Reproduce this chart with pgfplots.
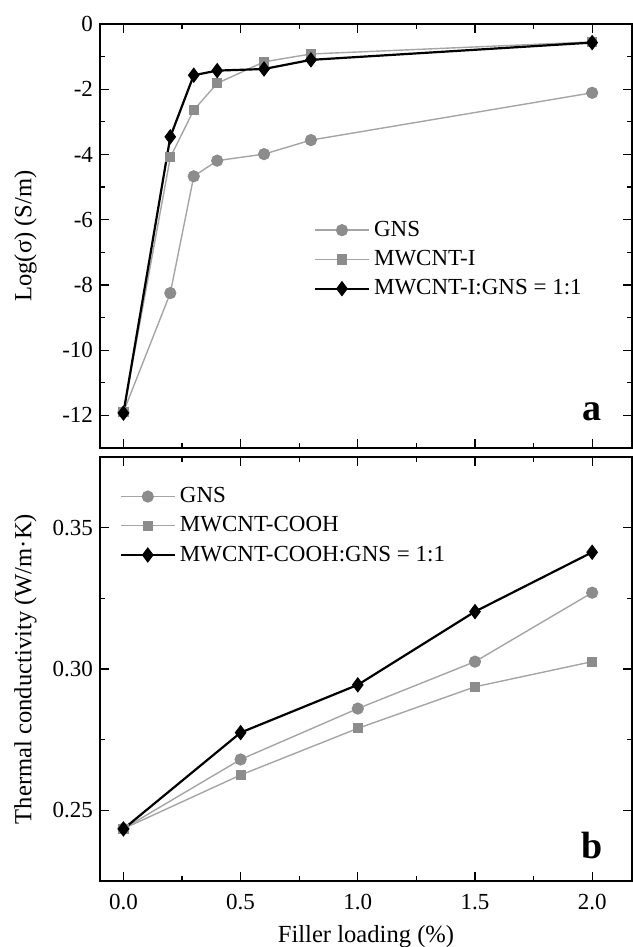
\documentclass[border=0pt]{standalone}
\usepackage{pgfplots}
\pgfplotsset{compat=1.18}
\usepackage{fontspec}
\setmainfont{Liberation Serif}

\definecolor{mgray}{RGB}{140,140,140}
\definecolor{lgray}{RGB}{165,165,165}

\newcommand{\tk}{\fontsize{11.5}{13.8}\selectfont}
\newcommand{\lb}{\fontsize{12.3}{14.5}\selectfont}

\pgfplotsset{
  panel/.style={
    scale only axis,
    width=266pt,
    height=212pt,
    xmin=-0.1, xmax=2.17,
    xtick={0,0.5,...,2},
    minor x tick num=1,
    minor y tick num=1,
    tick align=inside,
    major tick length=4.5pt,
    minor tick length=2.5pt,
    axis line style={line width=1pt},
    every tick/.style={black, line width=0.6pt},
    tick label style={font=\tk},
    /pgf/number format/assume math mode=true,
    every axis y label/.style={at={(axis description cs:-0.14,0.5)}, anchor=center, rotate=90, font=\lb},
    legend cell align=left,
    legend style={draw=none, fill=none, font=\tk, row sep=1.5pt,
      /tikz/every even column/.append style={column sep=3pt}},
    legend image code/.code={
      \draw[mark repeat=2, mark phase=2] plot coordinates {(0pt,0pt) (13.5pt,0pt) (27pt,0pt)};
    },
  },
  gns/.style={color=lgray, line width=0.7pt, mark=*, mark size=2.7pt,
    mark options={fill=mgray, draw=mgray}},
  cnt/.style={color=lgray, line width=0.7pt, mark=square*, mark size=2.2pt,
    mark options={fill=mgray, draw=mgray}},
  hyb/.style={color=black, line width=1.1pt, mark=diamond*, mark size=3.5pt,
    mark options={fill=black, draw=black, line width=0.5pt}},
}

\begin{document}
\begin{tikzpicture}
% panel a: electrical conductivity
\begin{axis}[panel,
  at={(0pt,216.5pt)}, anchor=south west,
  ymin=-13, ymax=0,
  ytick={-12,-10,...,0},
  xticklabels={},
  ylabel={Log(σ) (S/m)},
  legend style={at={(axis description cs:0.39,0.555)}, anchor=north west},
]
\addplot[gns] coordinates {(0,-11.9) (0.2,-8.25) (0.3,-4.67) (0.4,-4.19) (0.6,-3.99) (0.8,-3.56) (2.0,-2.11)};
\addplot[cnt] coordinates {(0,-11.9) (0.2,-4.09) (0.3,-2.64) (0.4,-1.82) (0.6,-1.16) (0.8,-0.92) (2.0,-0.55)};
\addplot[hyb] coordinates {(0,-11.93) (0.2,-3.46) (0.3,-1.57) (0.4,-1.43) (0.6,-1.38) (0.8,-1.10) (2.0,-0.57)};
\legend{GNS, MWCNT-I, MWCNT-I:GNS = 1:1}
\node[anchor=center, inner sep=0pt, font=\fontsize{19}{20}\selectfont\bfseries] at (axis cs:2.0,-11.9) {a};
\end{axis}
% panel b: thermal conductivity
\begin{axis}[panel,
  at={(0pt,0pt)}, anchor=south west,
  ymin=0.225, ymax=0.375,
  ytick={0.25,0.30,0.35},
  yticklabel style={/pgf/number format/fixed, /pgf/number format/fixed zerofill, /pgf/number format/precision=2},
  xticklabel style={yshift=-3pt, /pgf/number format/fixed, /pgf/number format/fixed zerofill, /pgf/number format/precision=1},
  xlabel={Filler loading (\%)},
  every axis x label/.style={at={(axis description cs:0.5,-0.132)}, anchor=center, font=\lb},
  ylabel={Thermal conductivity (W/m·K)},
  legend style={at={(axis description cs:0.025,0.948)}, anchor=north west},
]
\addplot[gns] coordinates {(0,0.2435) (0.5,0.2680) (1.0,0.2860) (1.5,0.3026) (2.0,0.3270)};
\addplot[cnt] coordinates {(0,0.2435) (0.5,0.2625) (1.0,0.2790) (1.5,0.2937) (2.0,0.3026)};
\addplot[hyb] coordinates {(0,0.2434) (0.5,0.2775) (1.0,0.2944) (1.5,0.3203) (2.0,0.3413)};
\legend{GNS, MWCNT-COOH, MWCNT-COOH:GNS = 1:1}
\node[anchor=center, inner sep=0pt, font=\fontsize{19}{20}\selectfont\bfseries] at (axis cs:2.0,0.2377) {b};
\end{axis}
\pgfresetboundingbox
\path (-50pt,-33pt) rectangle (266pt,440.5pt);
\end{tikzpicture}
\end{document}
